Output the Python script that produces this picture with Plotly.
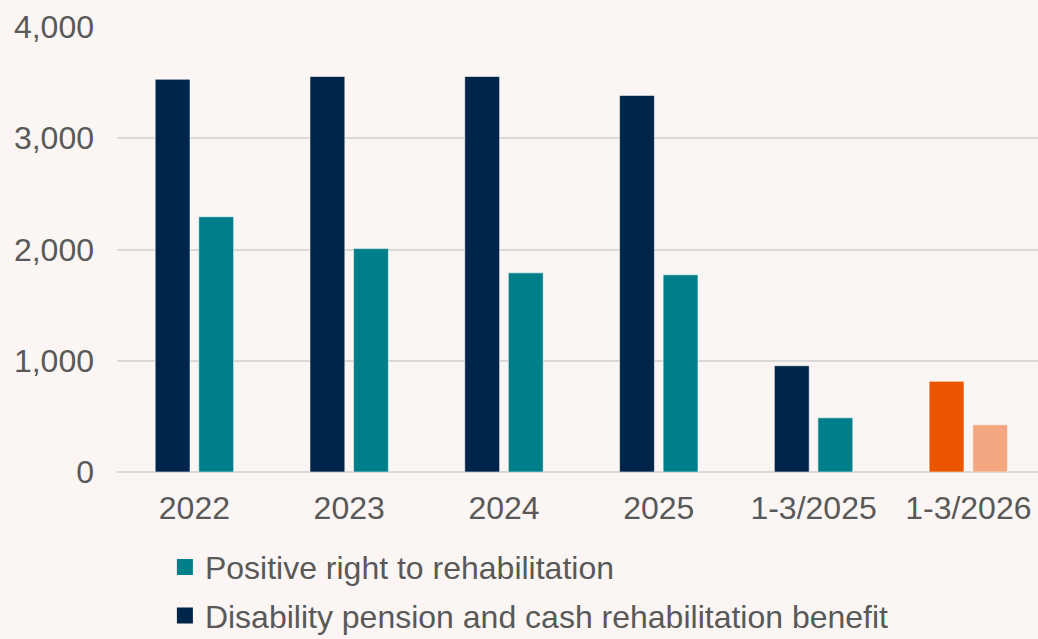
import plotly.graph_objects as go

categories = ["2022", "2023", "2024", "2025", "1-3/2025", "1-3/2026"]
disability = [3530, 3555, 3555, 3385, 955, 815]
positive = [2295, 2008, 1790, 1773, 487, 425]
disability_colors = ["#00254A"] * 5 + ["#EB5500"]
positive_colors = ["#007F8A"] * 5 + ["#F4A882"]
yticks = [0, 1000, 2000, 3000, 4000]
yticktext = ["0", "1,000", "2,000", "3,000", "4,000"]
legend_names = ["Positive right to rehabilitation",
                "Disability pension and cash rehabilitation benefit"]
legend_colors = ["#007F8A", "#00254A"]

FONT = "Liberation Sans, Arial, sans-serif"
GRAY = "#595959"
BG = "#FBF6F3"
FS = 32

fig = go.Figure()
fig.add_trace(go.Bar(
    x=categories, y=disability, name=legend_names[1], showlegend=False,
    marker=dict(color=disability_colors, line=dict(color="rgba(255,255,255,0.55)", width=1)),
))
fig.add_trace(go.Bar(
    x=categories, y=positive, name=legend_names[0], showlegend=False,
    marker=dict(color=positive_colors, line=dict(color="rgba(255,255,255,0.55)", width=1)),
))
for i, (nm, col) in enumerate(zip(legend_names, legend_colors)):
    fig.add_trace(go.Scatter(
        x=[None], y=[None], mode="markers", name=nm,
        marker=dict(symbol="square", size=16, color=col),
        legendgroup=f"g{i}", legendrank=i + 1,
    ))

fig.update_layout(
    width=1038, height=639, autosize=False,
    paper_bgcolor=BG, plot_bgcolor=BG,
    margin=dict(l=117, r=0, t=27, b=167, autoexpand=False),
    barmode="group", bargap=0.437, bargroupgap=0.2,
    font=dict(family=FONT, color=GRAY, size=FS),
    showlegend=True,
    legend=dict(
        orientation="v", x=0.052, xanchor="left", y=-0.152, yanchor="top",
        font=dict(size=FS, color=GRAY, family=FONT),
        tracegroupgap=4, itemwidth=30, bgcolor="rgba(0,0,0,0)",
    ),
    xaxis=dict(
        type="category", range=[-0.5, 5.45], showgrid=False, showline=False,
        ticks="", tickfont=dict(size=FS, color=GRAY), ticklabelstandoff=14,
    ),
    yaxis=dict(
        range=[0, 4000], tickvals=yticks, ticktext=yticktext,
        showgrid=True, gridcolor="#DBD9D8", gridwidth=2,
        zeroline=True, zerolinecolor="#DBD9D8", zerolinewidth=2,
        showline=False, ticks="", tickfont=dict(size=FS, color=GRAY),
        ticklabelstandoff=22,
    ),
)

fig.write_html(
    "out.html",
    config={"displayModeBar": False},
    post_script="document.body.style.margin='0';document.body.style.overflow='hidden';",
)
